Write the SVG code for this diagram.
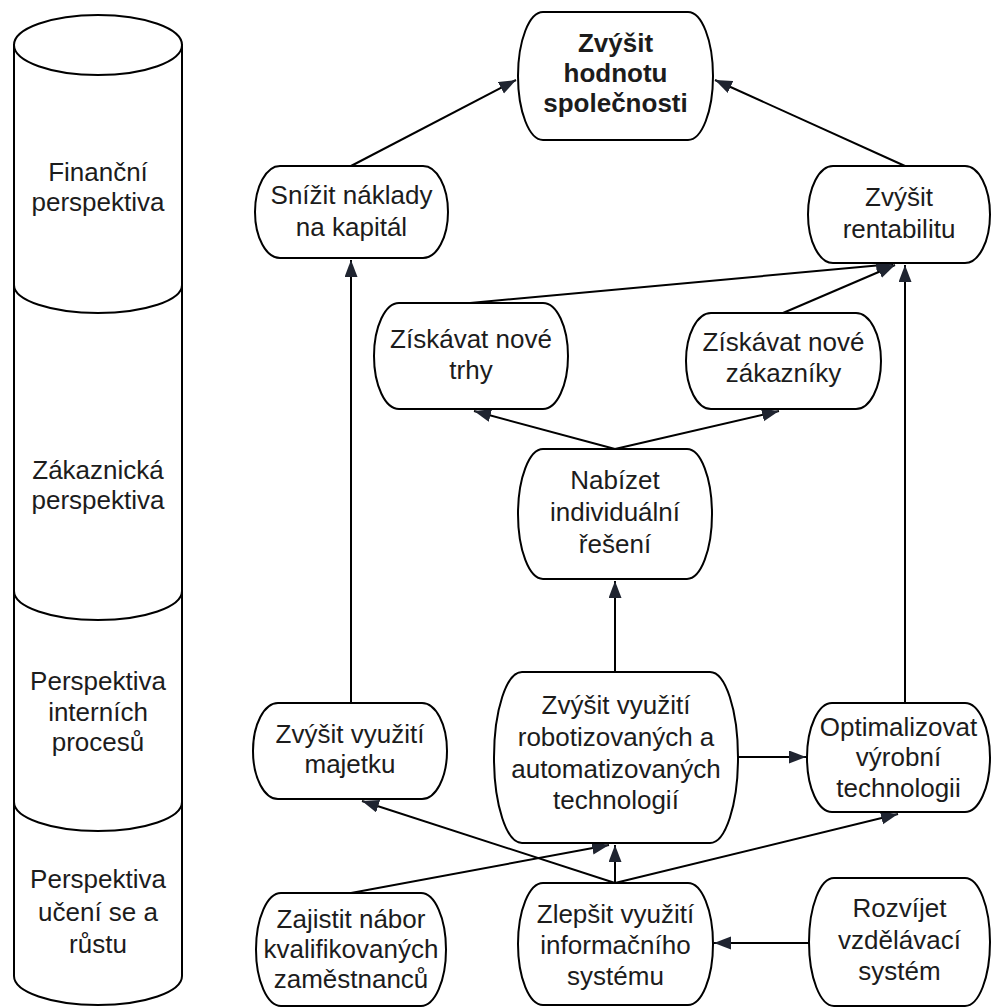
<svg xmlns="http://www.w3.org/2000/svg" width="991" height="1007" viewBox="0 0 991 1007">
  <style>
    .shape { fill: #ffffff; stroke: #000000; stroke-width: 2; }
    .line { fill: none; stroke: #000000; stroke-width: 2; }
    .edge { fill: none; stroke: #000000; stroke-width: 2; marker-end: url(#arrow); }
    .t { font-family: "Liberation Sans", Arial, sans-serif; font-size: 26px; fill: #1c1c1c; text-anchor: middle; }
    .b { font-weight: bold; }
  </style>
  <defs>
    <marker id="arrow" markerUnits="userSpaceOnUse" markerWidth="18" markerHeight="14" refX="17" refY="6.5" orient="auto">
      <path d="M0,0 L17,6.5 L0,13 z" fill="#1f2430"/>
    </marker>
  </defs>

  <rect width="991" height="1007" fill="#ffffff"/>

  <!-- perspective column (cylinder) -->
  <g id="perspectives">
    <path class="shape" d="M14,45 V976 A84,29 0 0 0 182,976 V45 Z"/>
    <ellipse class="shape" cx="98" cy="45" rx="84" ry="30"/>
    <path class="line" d="M14,285 A84,28 0 0 0 182,285"/>
    <path class="line" d="M14,591 A84,29 0 0 0 182,591"/>
    <path class="line" d="M14,802 A84,29 0 0 0 182,802"/>
    <text class="t" x="98" y="181">Finanční</text>
    <text class="t" x="98" y="211">perspektiva</text>
    <text class="t" x="98" y="479">Zákaznická</text>
    <text class="t" x="98" y="509">perspektiva</text>
    <text class="t" x="98" y="690">Perspektiva</text>
    <text class="t" x="98" y="721">interních</text>
    <text class="t" x="98" y="751">procesů</text>
    <text class="t" x="98" y="888">Perspektiva</text>
    <text class="t" x="98" y="921">učení se a</text>
    <text class="t" x="98" y="953">růstu</text>
  </g>

  <!-- connectors -->
  <g id="connectors">
    <line class="edge" x1="351" y1="166" x2="516" y2="80"/>
    <line class="edge" x1="905" y1="166" x2="715" y2="80"/>
    <line class="edge" x1="470" y1="303" x2="893" y2="264"/>
    <line class="edge" x1="783" y1="313" x2="895" y2="265"/>
    <line class="edge" x1="905" y1="703" x2="905" y2="265"/>
    <line class="edge" x1="615" y1="449" x2="474" y2="411"/>
    <line class="edge" x1="615" y1="449" x2="779" y2="411"/>
    <line class="edge" x1="615" y1="672" x2="615" y2="581"/>
    <line class="edge" x1="351" y1="703" x2="351" y2="260"/>
    <line class="edge" x1="738" y1="757" x2="806" y2="757"/>
    <line class="edge" x1="615" y1="883" x2="362" y2="801"/>
    <line class="edge" x1="615" y1="883" x2="615" y2="845"/>
    <line class="edge" x1="615" y1="883" x2="898" y2="814"/>
    <line class="edge" x1="351" y1="893" x2="609" y2="845"/>
    <line class="edge" x1="809" y1="943" x2="714" y2="943"/>
  </g>

  <g id="zvysit-hodnotu">
    <rect class="shape" x="518" y="12" width="195" height="128" rx="25" ry="64"/>
    <text class="t b" x="615.5" y="52">Zvýšit</text>
    <text class="t b" x="615.5" y="82">hodnotu</text>
    <text class="t b" x="615.5" y="112">společnosti</text>
  </g>

  <g id="snizit-naklady">
    <rect class="shape" x="255" y="166" width="193" height="92" rx="25" ry="46"/>
    <text class="t" x="351.5" y="204">Snížit náklady</text>
    <text class="t" x="351.5" y="236">na kapitál</text>
  </g>

  <g id="zvysit-rentabilitu">
    <rect class="shape" x="808" y="166" width="182" height="97" rx="25" ry="48.5"/>
    <text class="t" x="899" y="206">Zvýšit</text>
    <text class="t" x="899" y="238">rentabilitu</text>
  </g>

  <g id="nove-trhy">
    <rect class="shape" x="374" y="303" width="194" height="106" rx="25" ry="53"/>
    <text class="t" x="471" y="348">Získávat nové</text>
    <text class="t" x="471" y="379">trhy</text>
  </g>

  <g id="novi-zakaznici">
    <rect class="shape" x="686" y="313" width="195" height="96" rx="25" ry="48"/>
    <text class="t" x="783.5" y="351">Získávat nové</text>
    <text class="t" x="783.5" y="382">zákazníky</text>
  </g>

  <g id="individualni-reseni">
    <rect class="shape" x="518" y="449" width="194" height="130" rx="25" ry="65"/>
    <text class="t" x="615" y="489">Nabízet</text>
    <text class="t" x="615" y="521">individuální</text>
    <text class="t" x="615" y="553">řešení</text>
  </g>

  <g id="vyuziti-majetku">
    <rect class="shape" x="253" y="703" width="194" height="96" rx="25" ry="48"/>
    <text class="t" x="350" y="743">Zvýšit využití</text>
    <text class="t" x="350" y="773">majetku</text>
  </g>

  <g id="robotizace">
    <rect class="shape" x="494" y="672" width="244" height="171" rx="28" ry="85.5"/>
    <text class="t" x="616" y="714">Zvýšit využití</text>
    <text class="t" x="616" y="746">robotizovaných a</text>
    <text class="t" x="616" y="778">automatizovaných</text>
    <text class="t" x="616" y="809">technologií</text>
  </g>

  <g id="vyrobni-technologie">
    <rect class="shape" x="807" y="703" width="183" height="109" rx="25" ry="54.5"/>
    <text class="t" x="898.5" y="736">Optimalizovat</text>
    <text class="t" x="898.5" y="766">výrobní</text>
    <text class="t" x="898.5" y="797">technologii</text>
  </g>

  <g id="nabor">
    <rect class="shape" x="256" y="893" width="190" height="113" rx="25" ry="56.5"/>
    <text class="t" x="351" y="928">Zajistit nábor</text>
    <text class="t" x="351" y="958">kvalifikovaných</text>
    <text class="t" x="351" y="988">zaměstnanců</text>
  </g>

  <g id="informacni-system">
    <rect class="shape" x="518" y="883" width="195" height="122" rx="25" ry="61"/>
    <text class="t" x="615.5" y="923">Zlepšit využití</text>
    <text class="t" x="615.5" y="954">informačního</text>
    <text class="t" x="615.5" y="985">systému</text>
  </g>

  <g id="vzdelavaci-system">
    <rect class="shape" x="809" y="878" width="181" height="128" rx="25" ry="64"/>
    <text class="t" x="899.5" y="917">Rozvíjet</text>
    <text class="t" x="899.5" y="949">vzdělávací</text>
    <text class="t" x="899.5" y="980">systém</text>
  </g>
</svg>
